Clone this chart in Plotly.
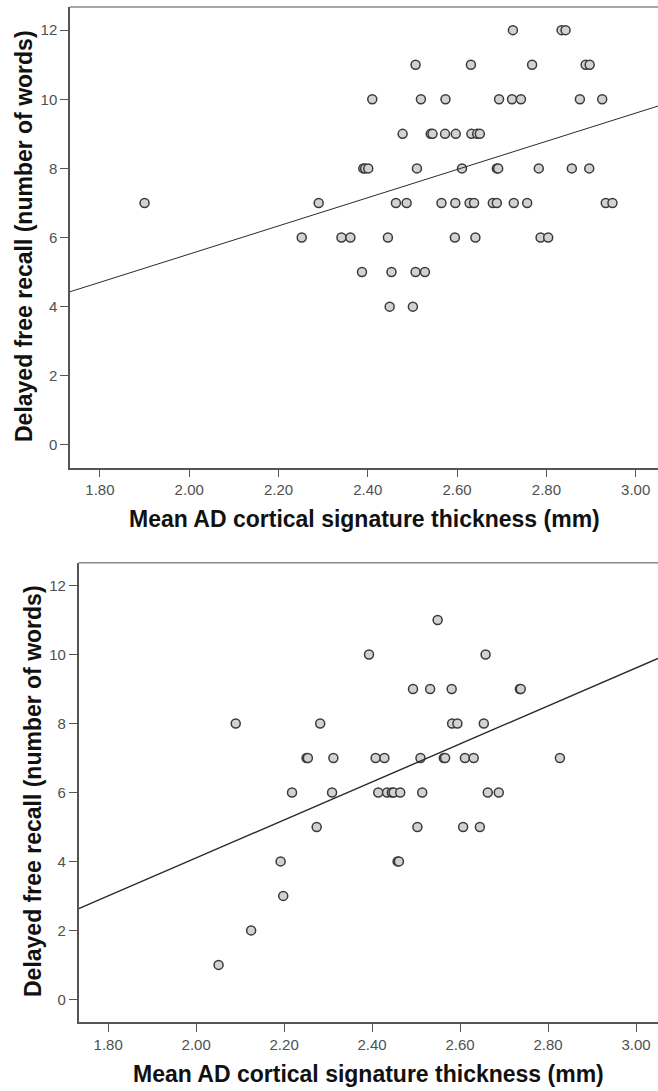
import plotly.graph_objects as go

# ---- data ----
top_x = [2.725, 2.834, 2.843,
         2.507, 2.631, 2.768, 2.888, 2.897,
         2.410, 2.519, 2.574, 2.694, 2.723, 2.743, 2.875, 2.925,
         2.478, 2.541, 2.545, 2.573, 2.597, 2.632, 2.645, 2.651,
         2.390, 2.394, 2.401, 2.510, 2.611, 2.689, 2.692, 2.783, 2.857, 2.896,
         1.900, 2.290, 2.463, 2.487, 2.565, 2.596, 2.628, 2.638, 2.680, 2.689, 2.727, 2.757, 2.933, 2.948,
         2.252, 2.341, 2.361, 2.445, 2.595, 2.641, 2.787, 2.804,
         2.387, 2.453, 2.507, 2.528,
         2.449, 2.501]
top_y = [12, 12, 12,
         11, 11, 11, 11, 11,
         10, 10, 10, 10, 10, 10, 10, 10,
         9, 9, 9, 9, 9, 9, 9, 9,
         8, 8, 8, 8, 8, 8, 8, 8, 8, 8,
         7, 7, 7, 7, 7, 7, 7, 7, 7, 7, 7, 7, 7, 7,
         6, 6, 6, 6, 6, 6, 6, 6,
         5, 5, 5, 5,
         4, 4]

bot_x = [2.549,
         2.393, 2.658,
         2.493, 2.532, 2.581, 2.736, 2.738,
         2.090, 2.282, 2.582, 2.594, 2.654,
         2.251, 2.254, 2.312, 2.408, 2.428, 2.510, 2.563, 2.566, 2.611, 2.631, 2.827,
         2.218, 2.309, 2.414, 2.434, 2.445, 2.449, 2.464, 2.514, 2.663, 2.688,
         2.274, 2.503, 2.607, 2.645,
         2.192, 2.458, 2.461,
         2.198,
         2.125,
         2.051]
bot_y = [11,
         10, 10,
         9, 9, 9, 9, 9,
         8, 8, 8, 8, 8,
         7, 7, 7, 7, 7, 7, 7, 7, 7, 7, 7,
         6, 6, 6, 6, 6, 6, 6, 6, 6, 6,
         5, 5, 5, 5,
         4, 4, 4,
         3,
         2,
         1]

# fit lines (intercept, slope)
top_fit = (-2.64, 4.08)
bot_fit = (-6.92, 5.51)

x_range = [1.733, 3.05]
x_ticks = [1.8, 2.0, 2.2, 2.4, 2.6, 2.8, 3.0]
x_ticktext = ["1.80", "2.00", "2.20", "2.40", "2.60", "2.80", "3.00"]
y_ticks = [0, 2, 4, 6, 8, 10, 12]

x_title = "Mean AD cortical signature thickness (mm)"
y_title = "Delayed free recall (number of words)"

W, H = 658, 1091
fig = go.Figure()

marker = dict(size=9, color="#d2d2d2", line=dict(color="#3a3a3a", width=1.5))

def add_panel(xs, ys, fit, xa, ya, lw):
    fig.add_trace(go.Scatter(x=xs, y=ys, mode="markers", marker=marker,
                             xaxis=xa, yaxis=ya, showlegend=False))
    fx = x_range
    fy = [fit[0] + fit[1] * v for v in fx]
    fig.add_trace(go.Scatter(x=fx, y=fy, mode="lines",
                             line=dict(color="#2a2a2a", width=lw),
                             xaxis=xa, yaxis=ya, showlegend=False))

add_panel(top_x, top_y, top_fit, "x", "y", 1)
add_panel(bot_x, bot_y, bot_fit, "x2", "y2", 1.4)

tickfont = dict(family="Liberation Sans Narrow, Arial Narrow, Liberation Sans, Arial", size=15, color="#505050")

def xaxis(left_px):
    return dict(range=x_range, domain=[left_px / W, 1], tickvals=x_ticks, ticktext=x_ticktext,
                showgrid=False, zeroline=False, showline=True, linecolor="#555555", linewidth=1.5,
                ticks="outside", ticklen=8, tickcolor="#555555", tickwidth=1, tickfont=tickfont)

def yaxis(top_px, bot_px, rng):
    return dict(range=rng, domain=[(H - bot_px) / H, (H - top_px) / H], tickvals=y_ticks,
                showgrid=False, zeroline=False, showline=True, linecolor="#555555", linewidth=1.5,
                ticks="outside", ticklen=8, tickcolor="#555555", tickwidth=1, tickfont=tickfont)

fig.update_layout(
    width=W, height=H,
    margin=dict(l=0, r=0, t=0, b=0),
    paper_bgcolor="white", plot_bgcolor="white",
    xaxis=dict(xaxis(70), anchor="y"),
    yaxis=dict(yaxis(7, 467.7, [-0.66, 12.67]), anchor="x"),
    xaxis2=dict(xaxis(78.7), anchor="y2"),
    yaxis2=dict(yaxis(562.7, 1021.8, [-0.65, 12.66]), anchor="x2"),
)

titlefont = dict(family="Liberation Sans, Arial", size=23, color="#111111")
ann = []
# x titles
ann.append(dict(text="<b>%s</b>" % x_title, x=(70 + W) / 2 / W, y=(H - 519) / H,
                xref="paper", yref="paper", showarrow=False, font=titlefont,
                xanchor="center", yanchor="middle"))
ann.append(dict(text="<b>%s</b>" % x_title, x=(78.7 + W) / 2 / W, y=(H - 1074) / H,
                xref="paper", yref="paper", showarrow=False, font=titlefont,
                xanchor="center", yanchor="middle"))
# y titles
ann.append(dict(text="<b>%s</b>" % y_title, x=24 / W, y=(H - 236) / H, textangle=-90,
                xref="paper", yref="paper", showarrow=False, font=titlefont,
                xanchor="center", yanchor="middle"))
ann.append(dict(text="<b>%s</b>" % y_title, x=33 / W, y=(H - 791) / H, textangle=-90,
                xref="paper", yref="paper", showarrow=False, font=titlefont,
                xanchor="center", yanchor="middle"))
fig.update_layout(annotations=ann)

# top frame lines
shapes = [
    dict(type="line", xref="x domain", yref="y domain", x0=0, x1=1, y0=1, y1=1,
         line=dict(color="#8a8a8a", width=1.5)),
    dict(type="line", xref="x2 domain", yref="y2 domain", x0=0, x1=1, y0=1, y1=1,
         line=dict(color="#8a8a8a", width=1.5)),
]
fig.update_layout(shapes=shapes)

fig.write_html("out.html", config={"displayModeBar": False},
               post_script="document.body.style.margin='0px';document.body.style.overflow='hidden';")
